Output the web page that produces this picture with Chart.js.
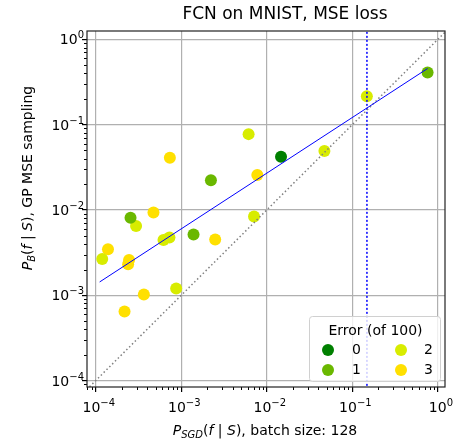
<!DOCTYPE html>
<html lang="en">
<head>
  <meta charset="UTF-8" />
  <title>FCN on MNIST, MSE loss</title>
  <style>
    body { margin: 0; background: white; }
    #wrap { width: 455px; height: 444px; }
  </style>
</head>
<body>
<div id="wrap"><canvas id="chart" width="455" height="444"></canvas></div>

<script src="https://cdn.jsdelivr.net/npm/chart.js"></script>
<script>
  // Values (P_SGD on x, P_B on y)
  const errorLabels = ['0', '1', '2', '3'];
  const errorColors = ['#008000', '#6ab800', '#d8ec00', '#ffe000'];

  const err0 = [[0.01465, 0.0419]];
  const err1 = [[0.757, 0.407], [0.00222, 0.0223], [0.000255, 0.0081], [0.00139, 0.00516]];
  const err2 = [[0.1476, 0.215], [0.00612, 0.0773], [0.0471, 0.0489], [0.00708, 0.00839],
                [0.000296, 0.00647], [0.000619, 0.00443], [0.000727, 0.00476],
                [0.000119, 0.00266], [0.000871, 0.0012]];
  const err3 = [[0.000735, 0.0408], [0.00774, 0.0256], [0.000473, 0.00935], [0.00249, 0.00451],
                [0.000139, 0.00345], [0.000245, 0.00259], [0.000239, 0.0023],
                [0.000365, 0.00102], [0.000217, 0.000643]];

  const fitLine = [[0.000111, 0.00143], [0.757, 0.454]];
  const diagLine = [[1e-5, 1e-5], [10, 10]];
  const cutX = 0.148;
  const cutLine = [[cutX, 1e-5], [cutX, 10]];

  const majorTicks = [1e-4, 1e-3, 1e-2, 1e-1, 1];
  const tickExps = ['\u22124', '\u22123', '\u22122', '\u22121', '0'];

  const toXY = arr => arr.map(p => ({ x: p[0], y: p[1] }));

  const FONT = '"DejaVu Sans", sans-serif';

  function partsWidth(ctx, parts) {
    let total = 0;
    parts.forEach(p => { ctx.font = p.font; total += ctx.measureText(p.t).width; });
    return total;
  }

  // draw text made of pieces in different fonts (italic, subscripts, superscripts)
  function drawRich(ctx, parts, x, y, align) {
    const total = partsWidth(ctx, parts);
    let cx = align === 'right' ? x - total : x - total / 2;
    ctx.textAlign = 'left';
    ctx.textBaseline = 'alphabetic';
    parts.forEach(p => {
      ctx.font = p.font;
      ctx.fillText(p.t, cx, y + (p.dy || 0));
      cx += ctx.measureText(p.t).width;
    });
  }

  const it = 'italic 14px ' + FONT;
  const rg = '14px ' + FONT;
  const sub = 'italic 10px ' + FONT;
  const tickFont = '14px ' + FONT;
  const supFont = '10px ' + FONT;

  const tickParts = i => [{ t: '10', font: tickFont }, { t: tickExps[i], font: supFont, dy: -6 }];

  const decorPlugin = {
    id: 'decor',
    afterDraw(chart) {
      const ctx = chart.ctx;
      const a = chart.chartArea;
      const xs = chart.scales.x, ys = chart.scales.y;
      ctx.save();

      // minor ticks
      ctx.strokeStyle = '#000';
      ctx.lineWidth = 1;
      ctx.beginPath();
      for (let e = -5; e <= 0; e++) {
        for (let m = 2; m <= 9; m++) {
          const v = m * Math.pow(10, e);
          if (v >= xs.min && v <= xs.max) {
            const px = Math.round(xs.getPixelForValue(v)) + 0.5;
            ctx.moveTo(px, a.bottom); ctx.lineTo(px, a.bottom + 3);
          }
          if (v >= ys.min && v <= ys.max) {
            const py = Math.round(ys.getPixelForValue(v)) + 0.5;
            ctx.moveTo(a.left, py); ctx.lineTo(a.left - 3, py);
          }
        }
      }
      ctx.stroke();

      // frame
      ctx.strokeStyle = '#222';
      ctx.lineWidth = 1.2;
      ctx.strokeRect(a.left, a.top, a.right - a.left, a.bottom - a.top);

      // tick labels
      ctx.fillStyle = '#000';
      majorTicks.forEach((v, i) => {
        const px = xs.getPixelForValue(v);
        drawRich(ctx, tickParts(i), px + 3, a.bottom + 25, 'center');
        const py = ys.getPixelForValue(v);
        drawRich(ctx, tickParts(i), a.left - 3, py + 5, 'right');
      });

      // title
      ctx.font = '17px ' + FONT;
      ctx.textAlign = 'center';
      ctx.textBaseline = 'middle';
      ctx.fillText('FCN on MNIST, MSE loss', 285, 15);

      // x axis title
      drawRich(ctx, [
        { t: 'P', font: it }, { t: 'SGD', font: sub, dy: 3 },
        { t: '(', font: rg }, { t: 'f', font: it }, { t: ' | ', font: rg },
        { t: 'S', font: it }, { t: '), batch size: 128', font: rg }
      ], 265, 435, 'center');

      // y axis title
      ctx.translate(32, 178);
      ctx.rotate(-Math.PI / 2);
      drawRich(ctx, [
        { t: 'P', font: it }, { t: 'B', font: sub, dy: 3 },
        { t: '(', font: rg }, { t: 'f', font: it }, { t: ' | ', font: rg },
        { t: 'S', font: it }, { t: '), GP MSE sampling', font: rg }
      ], 0, 0, 'center');
      ctx.setTransform(1, 0, 0, 1, 0, 0);

      // legend
      const lx = 309, ly = 316, lw = 131, lh = 65;
      ctx.fillStyle = 'rgba(255,255,255,0.8)';
      ctx.strokeStyle = '#d0d0d0';
      ctx.lineWidth = 1;
      ctx.beginPath();
      ctx.roundRect(lx + 0.5, ly + 0.5, lw, lh, 3);
      ctx.fill();
      ctx.stroke();
      ctx.fillStyle = '#000';
      ctx.font = '14px ' + FONT;
      ctx.textAlign = 'center';
      ctx.textBaseline = 'middle';
      ctx.fillText('Error (of 100)', lx + lw / 2 + 1, ly + 15);
      const cols = [[328, 357], [401, 429]];
      const rows = [350, 370];
      errorLabels.forEach((lab, i) => {
        const c = cols[Math.floor(i / 2)], r = rows[i % 2];
        ctx.fillStyle = errorColors[i];
        ctx.beginPath();
        ctx.arc(c[0], r, 6, 0, Math.PI * 2);
        ctx.fill();
        ctx.fillStyle = '#000';
        ctx.font = '14px ' + FONT;
        ctx.textAlign = 'right';
        ctx.fillText(lab, c[1] + 4, r);
      });
      ctx.restore();
    }
  };

  const scatterSet = (arr, i) => ({
    type: 'scatter',
    label: errorLabels[i],
    data: toXY(arr),
    backgroundColor: errorColors[i],
    borderColor: errorColors[i],
    borderWidth: 0,
    pointRadius: 6,
    order: 2
  });

  const logScale = (min, max, isX) => ({
    type: 'logarithmic',
    min: min,
    max: max,
    border: { display: false },
    grid: {
      color: '#b0b0b0',
      lineWidth: 1.2,
      tickColor: '#000',
      tickLength: 5,
      drawTicks: true
    },
    ticks: { display: false },
    afterBuildTicks: s => { s.ticks = majorTicks.map(v => ({ value: v })); },
    afterFit: s => { if (isX) s.height = 57; else s.width = 87; }
  });

  new Chart(document.getElementById('chart'), {
    type: 'scatter',
    data: {
      datasets: [
        scatterSet(err0, 0), scatterSet(err1, 1), scatterSet(err2, 2), scatterSet(err3, 3),
        { type: 'line', data: toXY(fitLine), borderColor: '#0000ff', borderWidth: 1,
          pointRadius: 0, fill: false, order: 0 },
        { type: 'line', data: toXY(diagLine), borderColor: '#808080', borderWidth: 1.5,
          borderDash: [1.5, 2.5], pointRadius: 0, fill: false, order: 0 },
        { type: 'line', data: toXY(cutLine), borderColor: '#0000ff', borderWidth: 1.5,
          borderDash: [2, 2], pointRadius: 0, fill: false, order: 0 }
      ]
    },
    options: {
      responsive: false,
      animation: false,
      layout: { padding: { left: 0, right: 10, top: 31, bottom: 0 } },
      plugins: { legend: { display: false }, tooltip: { enabled: false } },
      scales: {
        x: logScale(7.9e-5, 1.21, true),
        y: logScale(8.4e-5, 1.25, false)
      }
    },
    plugins: [decorPlugin]
  });
</script>
</body>
</html>
